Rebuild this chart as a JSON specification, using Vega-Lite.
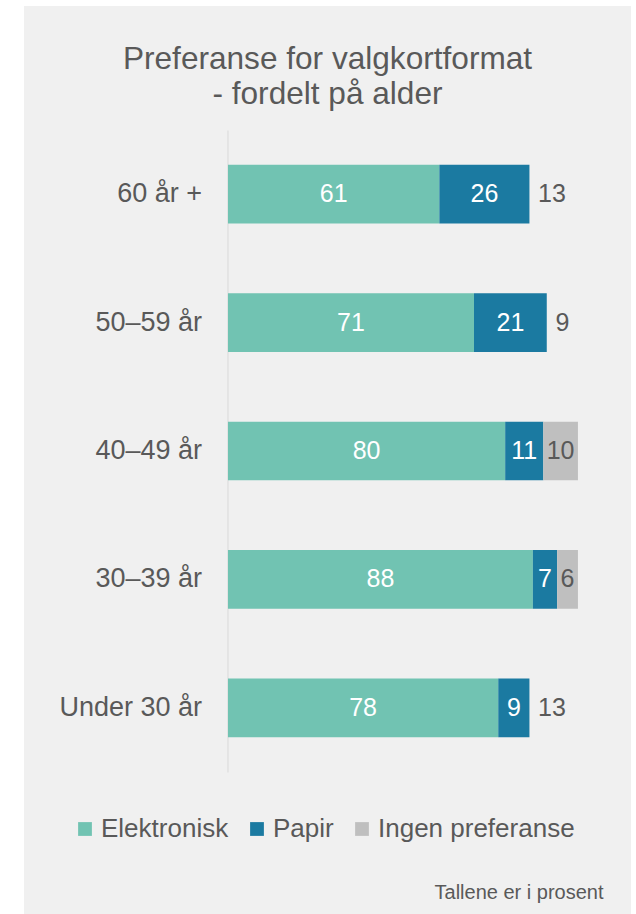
{
  "$schema": "https://vega.github.io/schema/vega-lite/v6.json",
  "width": 607,
  "height": 908,
  "autosize": {"type": "none"},
  "padding": {"left": 24, "top": 6, "right": 5, "bottom": 0},
  "background": "#ffffff",
  "config": {
    "view": {"fill": "#f0f0f0", "stroke": null},
    "font": "Liberation Sans"
  },
  "title": {
    "text": ["Preferanse for valgkortformat", "- fordelt på alder"],
    "fontSize": 31.6,
    "fontWeight": "normal",
    "color": "#595959",
    "font": "Liberation Sans",
    "anchor": "middle",
    "frame": "group",
    "baseline": "alphabetic",
    "lineHeight": 35,
    "offset": -130
  },
  "data": {
    "values": [
      {"alder": "60 år +", "kategori": "Elektronisk", "prosent": 61},
      {"alder": "60 år +", "kategori": "Papir", "prosent": 26},
      {"alder": "60 år +", "kategori": "Ingen preferanse", "prosent": 13},
      {"alder": "50–59 år", "kategori": "Elektronisk", "prosent": 71},
      {"alder": "50–59 år", "kategori": "Papir", "prosent": 21},
      {"alder": "50–59 år", "kategori": "Ingen preferanse", "prosent": 9},
      {"alder": "40–49 år", "kategori": "Elektronisk", "prosent": 80},
      {"alder": "40–49 år", "kategori": "Papir", "prosent": 11},
      {"alder": "40–49 år", "kategori": "Ingen preferanse", "prosent": 10},
      {"alder": "30–39 år", "kategori": "Elektronisk", "prosent": 88},
      {"alder": "30–39 år", "kategori": "Papir", "prosent": 7},
      {"alder": "30–39 år", "kategori": "Ingen preferanse", "prosent": 6},
      {"alder": "Under 30 år", "kategori": "Elektronisk", "prosent": 78},
      {"alder": "Under 30 år", "kategori": "Papir", "prosent": 9},
      {"alder": "Under 30 år", "kategori": "Ingen preferanse", "prosent": 13}
    ]
  },
  "transform": [
    {"calculate": "indexof(['Elektronisk','Papir','Ingen preferanse'], datum.kategori)", "as": "rekkefolge"}
  ],
  "encoding": {
    "y": {
      "field": "alder",
      "type": "nominal",
      "sort": ["60 år +", "50–59 år", "40–49 år", "30–39 år", "Under 30 år"],
      "scale": {"range": [124, 766], "paddingInner": 0.543, "paddingOuter": 0.2715},
      "axis": {
        "title": null,
        "domainColor": "#d9d9d9",
        "domainWidth": 1,
        "ticks": false,
        "tickSize": 0,
        "grid": false,
        "labelFontSize": 27,
        "labelColor": "#595959",
        "labelFont": "Liberation Sans",
        "labelPadding": 26,
        "offset": -203.5
      }
    },
    "order": {"field": "rekkefolge", "type": "quantitative"}
  },
  "layer": [
    {
      "mark": {"type": "bar"},
      "encoding": {
        "x": {
          "field": "prosent",
          "type": "quantitative",
          "stack": "zero",
          "scale": {"domain": [-58.87, 116.31], "nice": false, "zero": false},
          "axis": {
            "title": "Tallene er i prosent",
            "domain": false,
            "ticks": false,
            "labels": false,
            "grid": false,
            "titleFontSize": 20,
            "titleFontWeight": "normal",
            "titleColor": "#595959",
            "titleFont": "Liberation Sans",
            "titleAnchor": "end",
            "titleAlign": "right",
            "titleX": 579,
            "titleY": -16,
            "titleBaseline": "alphabetic"
          }
        },
        "color": {
          "field": "kategori",
          "type": "nominal",
          "scale": {
            "domain": ["Elektronisk", "Papir", "Ingen preferanse"],
            "range": ["#71c3b2", "#1b7aa1", "#bfbfbf"]
          },
          "legend": {
            "orient": "none",
            "legendX": 48,
            "legendY": 810,
            "direction": "horizontal",
            "title": null,
            "symbolType": "square",
            "symbolSize": 190,
            "symbolStrokeWidth": 0,
            "symbolOpacity": 1,
            "labelFontSize": 26,
            "labelColor": "#595959",
            "labelFont": "Liberation Sans",
            "labelOffset": 3,
            "columnPadding": 15,
            "labelLimit": 300
          }
        },
        "opacity": {
          "condition": {
            "test": "datum.kategori == 'Ingen preferanse' && (datum.alder == '60 år +' || datum.alder == '50–59 år' || datum.alder == 'Under 30 år')",
            "value": 0
          },
          "value": 1
        }
      }
    },
    {
      "mark": {"type": "text", "fontSize": 25, "font": "Liberation Sans"},
      "encoding": {
        "x": {
          "field": "prosent",
          "type": "quantitative",
          "stack": "zero",
          "bandPosition": 0.5,
          "scale": {"domain": [-58.87, 116.31], "nice": false, "zero": false},
          "axis": {
            "title": "Tallene er i prosent",
            "domain": false,
            "ticks": false,
            "labels": false,
            "grid": false,
            "titleFontSize": 20,
            "titleFontWeight": "normal",
            "titleColor": "#595959",
            "titleFont": "Liberation Sans",
            "titleAnchor": "end",
            "titleAlign": "right",
            "titleX": 579,
            "titleY": -16,
            "titleBaseline": "alphabetic"
          }
        },
        "detail": {"field": "kategori", "type": "nominal"},
        "text": {"field": "prosent", "type": "quantitative"},
        "color": {
          "condition": {"test": "datum.kategori == 'Ingen preferanse'", "value": "#595959"},
          "value": "#ffffff"
        }
      }
    }
  ]
}
